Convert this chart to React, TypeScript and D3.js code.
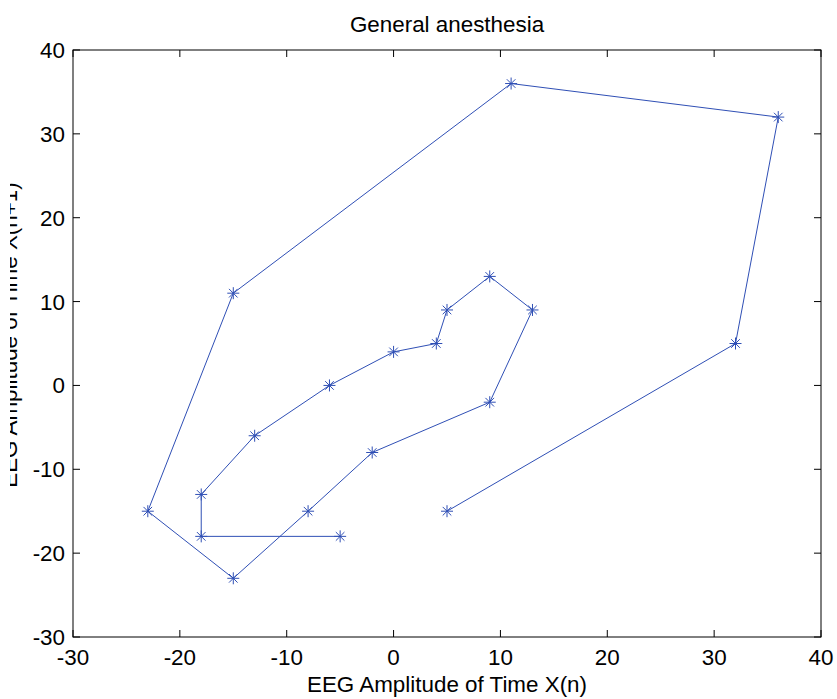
import React from "react";
import * as d3 from "d3";

const xValues = [-5, -18, -18, -13, -6, 0, 4, 5, 9, 13, 9, -2, -8, -15, -23, -15, 11, 36, 32, 5];
const yValues = [-18, -18, -13, -6, 0, 4, 5, 9, 13, 9, -2, -8, -15, -23, -15, 11, 36, 32, 5, -15];
const xTicks = [-30, -20, -10, 0, 10, 20, 30, 40];
const yTicks = [-30, -20, -10, 0, 10, 20, 30, 40];
const title = "General anesthesia";
const xLabel = "EEG Amplitude of Time X(n)";
const yLabel = "EEG Amplitude of Time X(n+1)";

const W = 837, H = 699;
const L = 73, R = 821, T = 50, B = 637;
const FONT = "'Liberation Sans', Arial, sans-serif";
const FS = 22.4;
const COLOR = "#2f4fb5";

export default function App() {
  const x = d3.scaleLinear().domain([-30, 40]).range([L, R]);
  const y = d3.scaleLinear().domain([-30, 40]).range([B, T]);
  const pts = xValues.map((v, i) => [x(v), y(yValues[i])] as [number, number]);
  const line = d3.line()(pts) || "";
  const tl = 7;
  const s = 6;
  const d = 4.3;
  return (
    <svg width={W} height={H} style={{ position: "absolute", left: 0, top: 0, background: "#fff" }}>
      <defs>
        <clipPath id="ylab-clip">
          <rect x={10} y={0} width={40} height={H} />
        </clipPath>
      </defs>
      <rect x={0} y={0} width={W} height={H} fill="#fff" />
      <rect x={L} y={T} width={R - L} height={B - T} fill="none" stroke="#000" strokeWidth={1} />
      {xTicks.map((t) => (
        <g key={"x" + t}>
          <line x1={x(t)} x2={x(t)} y1={B} y2={B - tl} stroke="#000" />
          <line x1={x(t)} x2={x(t)} y1={T} y2={T + tl} stroke="#000" />
          <text x={x(t)} y={B + 28} textAnchor="middle" fontFamily={FONT} fontSize={FS}>{t}</text>
        </g>
      ))}
      {yTicks.map((t) => (
        <g key={"y" + t}>
          <line x1={L} x2={L + tl} y1={y(t)} y2={y(t)} stroke="#000" />
          <line x1={R} x2={R - tl} y1={y(t)} y2={y(t)} stroke="#000" />
          <text x={L - 8} y={y(t)} dy="0.36em" textAnchor="end" fontFamily={FONT} fontSize={FS}>{t}</text>
        </g>
      ))}
      <path d={line} fill="none" stroke={COLOR} strokeWidth={1} />
      {pts.map(([px, py], i) => (
        <g key={"m" + i} stroke={COLOR} strokeWidth={1}>
          <line x1={px - s} x2={px + s} y1={py} y2={py} />
          <line x1={px} x2={px} y1={py - s} y2={py + s} />
          <line x1={px - d} x2={px + d} y1={py - d} y2={py + d} />
          <line x1={px - d} x2={px + d} y1={py + d} y2={py - d} />
        </g>
      ))}
      <text x={(L + R) / 2} y={32} textAnchor="middle" fontFamily={FONT} fontSize={FS}>{title}</text>
      <text x={(L + R) / 2} y={692} textAnchor="middle" fontFamily={FONT} fontSize={FS}>{xLabel}</text>
      <g clipPath="url(#ylab-clip)">
        <text transform={`translate(16.5,335) rotate(-90)`} textAnchor="middle" fontFamily={FONT} fontSize={FS}>{yLabel}</text>
      </g>
    </svg>
  );
}
